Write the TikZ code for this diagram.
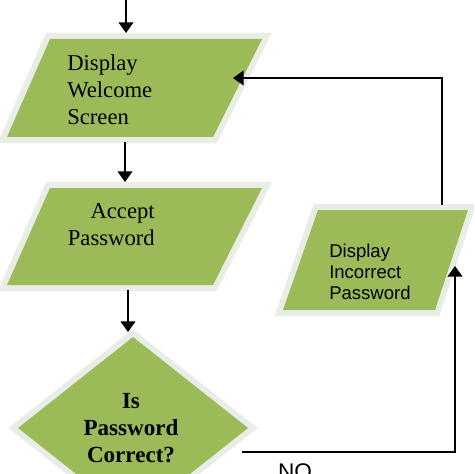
\documentclass[tikz,border=0pt]{standalone}
\usepackage{fontspec}
\setmainfont{Liberation Serif}
\setsansfont{Liberation Sans}
\usepackage{tikz}
\usetikzlibrary{arrows.meta,calc}

\definecolor{boxgreen}{HTML}{9BBB59}
\definecolor{boxrim}{HTML}{EAECE6}

\tikzset{
  shapebox/.style={draw=boxrim,line width=9pt,line join=miter,fill=boxgreen},
  flowline/.style={line width=1.5pt,-{Triangle[length=8pt,width=11pt]}},
  serifbig/.style={font=\fontsize{17}{20.25}\selectfont},
  sansmid/.style={font=\sffamily\fontsize{13.9}{15.75}\selectfont}
}

\begin{document}
\begin{tikzpicture}[x=0.75pt,y=0.75pt,yscale=-1,xscale=1]
\useasboundingbox (0,0) rectangle (474,474);
\clip (0,0) rectangle (474,474);

%Shape: Parallelogram (welcome)
\draw [shapebox] (50,39) -- (262,39) -- (213,137) -- (7,137) -- cycle;
\fill [boxgreen] (50,39) -- (262,39) -- (213,137) -- (7,137) -- cycle;
%Shape: Parallelogram (accept)
\draw [shapebox] (50,188) -- (262,188) -- (213,285) -- (7,285) -- cycle;
\fill [boxgreen] (50,188) -- (262,188) -- (213,285) -- (7,285) -- cycle;
%Shape: Parallelogram (incorrect)
\draw [shapebox] (318,210) -- (468,210) -- (435,310) -- (283,310) -- cycle;
\fill [boxgreen] (318,210) -- (468,210) -- (435,310) -- (283,310) -- cycle;
%Shape: Diamond (check)
\draw [shapebox] (133,337) -- (248,428) -- (133,519) -- (18,428) -- cycle;
\fill [boxgreen] (133,337) -- (248,428) -- (133,519) -- (18,428) -- cycle;

%Connector end points
\coordinate (startin) at (126,0);
\coordinate (welcometop) at (126,33);
\coordinate (welcomebot) at (125,142);
\coordinate (accepttop) at (125,182);
\coordinate (acceptbot) at (128,290);
\coordinate (checktop) at (128,332);
\coordinate (checkright) at (242,452);
\coordinate (incorrectin) at (455,266);
\coordinate (incorrecttop) at (442,205);
\coordinate (welcomeright) at (233,78);

%Straight Lines
\draw [flowline] (startin) -- (welcometop);
\draw [flowline] (welcomebot) -- (accepttop);
\draw [flowline] (acceptbot) -- (checktop);
\draw [flowline] (checkright) -| (incorrectin);
\draw [flowline] (incorrecttop) |- (welcomeright);

% Text Node
\node (welcome) [anchor=west,inner sep=0pt,align=left,serifbig] at (67,90) {Display\\Welcome\\Screen};
% Text Node
\node (accept) [anchor=east,inner sep=0pt,align=right,serifbig] at (155,225) {Accept\\Password};
% Text Node
\node (check) [inner sep=0pt,align=center,font=\bfseries\fontsize{17.3}{20.25}\selectfont] at (131,428) {Is\\Password\\Correct?};
% Text Node
\node (incorrect) [anchor=west,inner sep=0pt,align=left,sansmid] at (329,272) {Display\\Incorrect\\Password};
% Text Node
\node (no) [anchor=north,inner sep=0pt,font=\sffamily\fontsize{17}{20}\selectfont] at (295,463) {NO};

\end{tikzpicture}
\end{document}
